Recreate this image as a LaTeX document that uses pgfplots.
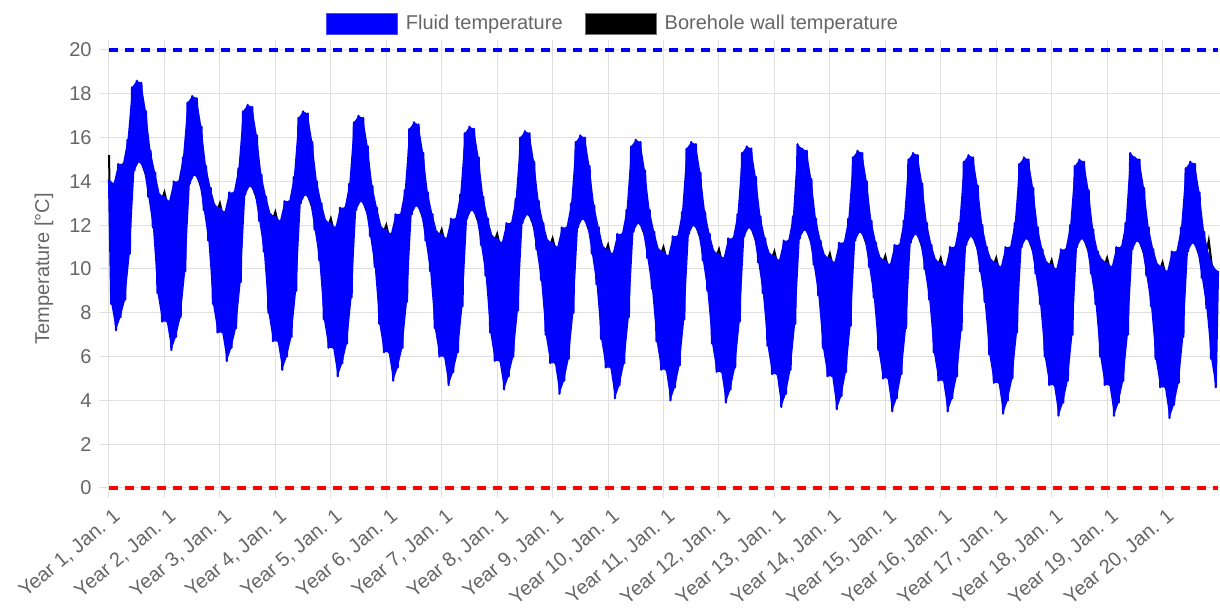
\documentclass[border=0pt]{standalone}
\usepackage{pgfplots}
\usepackage{pgfplotstable}
\pgfplotsset{compat=1.18}
\usepgfplotslibrary{fillbetween}
\usepackage{fontspec}
\setmainfont{Liberation Sans}
\definecolor{txtgray}{RGB}{102,102,102}
\definecolor{gridgray}{RGB}{224,224,224}

% Fluid temperature: half-monthly values, alternating upper / lower envelope
\pgfplotstableread[header=false, row sep=\\]{
14.1\\8.4\\13.9\\7.2\\14.8\\7.8\\14.8\\8.6\\15.9\\10.7\\18.3\\14.5\\18.6\\14.9\\18.5\\14.6\\17.2\\13.3\\15.4\\11.9\\14.4\\8.9\\13.4\\7.6\\
13.3\\7.6\\13.1\\6.3\\14.0\\6.9\\14.0\\7.8\\15.1\\9.9\\17.6\\13.9\\17.9\\14.3\\17.8\\14.0\\16.5\\12.7\\14.7\\11.3\\13.7\\8.4\\12.9\\7.1\\
12.8\\7.1\\12.6\\5.8\\13.5\\6.4\\13.5\\7.3\\14.6\\9.4\\17.2\\13.4\\17.5\\13.8\\17.4\\13.5\\16.1\\12.2\\14.3\\10.8\\13.3\\8.0\\12.5\\6.7\\
12.4\\6.7\\12.2\\5.4\\13.1\\6.0\\13.1\\6.9\\14.2\\9.0\\16.9\\13.0\\17.2\\13.4\\17.1\\13.1\\15.8\\11.8\\14.0\\10.4\\13.0\\7.7\\12.2\\6.4\\
12.1\\6.4\\11.9\\5.1\\12.8\\5.7\\12.8\\6.6\\13.9\\8.7\\16.7\\12.7\\17.0\\13.1\\16.9\\12.8\\15.6\\11.5\\13.8\\10.1\\12.8\\7.5\\11.9\\6.2\\
11.8\\6.2\\11.6\\4.9\\12.5\\5.5\\12.5\\6.4\\13.6\\8.5\\16.4\\12.5\\16.7\\12.9\\16.6\\12.6\\15.3\\11.3\\13.5\\9.9\\12.5\\7.3\\11.7\\6.0\\
11.6\\6.0\\11.4\\4.7\\12.3\\5.3\\12.3\\6.2\\13.4\\8.3\\16.2\\12.3\\16.5\\12.7\\16.4\\12.4\\15.1\\11.1\\13.3\\9.7\\12.3\\7.1\\11.5\\5.8\\
11.4\\5.8\\11.2\\4.5\\12.1\\5.1\\12.1\\6.0\\13.2\\8.1\\16.0\\12.1\\16.3\\12.5\\16.2\\12.2\\14.9\\10.9\\13.1\\9.5\\12.1\\7.0\\11.3\\5.7\\
11.2\\5.7\\11.0\\4.3\\11.9\\4.9\\11.9\\5.9\\13.0\\8.0\\15.8\\11.9\\16.1\\12.3\\16.0\\12.0\\14.7\\10.7\\12.9\\9.3\\11.9\\6.8\\11.0\\5.5\\
10.9\\5.5\\10.7\\4.1\\11.6\\4.7\\11.6\\5.7\\12.7\\7.8\\15.6\\11.7\\15.9\\12.1\\15.8\\11.8\\14.5\\10.5\\12.7\\9.1\\11.7\\6.7\\10.9\\5.4\\
10.8\\5.4\\10.6\\4.0\\11.5\\4.6\\11.5\\5.6\\12.6\\7.7\\15.5\\11.6\\15.8\\12.0\\15.7\\11.7\\14.4\\10.4\\12.6\\9.0\\11.6\\6.6\\10.8\\5.3\\
10.7\\5.3\\10.5\\3.9\\11.4\\4.5\\11.4\\5.5\\12.5\\7.6\\15.3\\11.5\\15.6\\11.9\\15.5\\11.6\\14.2\\10.3\\12.4\\8.9\\11.4\\6.5\\10.7\\5.2\\
10.6\\5.2\\10.4\\3.7\\11.3\\4.3\\11.3\\5.4\\12.4\\7.5\\15.7\\11.4\\15.5\\11.8\\15.4\\11.5\\14.1\\10.2\\12.3\\8.8\\11.3\\6.4\\10.6\\5.1\\
10.5\\5.1\\10.3\\3.6\\11.2\\4.2\\11.2\\5.3\\12.3\\7.4\\15.1\\11.3\\15.4\\11.7\\15.3\\11.4\\14.0\\10.1\\12.2\\8.7\\11.2\\6.3\\10.5\\5.0\\
10.4\\5.0\\10.2\\3.5\\11.1\\4.1\\11.1\\5.2\\12.2\\7.3\\15.0\\11.2\\15.3\\11.6\\15.2\\11.3\\13.9\\10.0\\12.1\\8.6\\11.1\\6.2\\10.4\\4.9\\
10.3\\4.9\\10.1\\3.5\\11.0\\4.1\\11.0\\5.1\\12.1\\7.2\\14.9\\11.1\\15.2\\11.5\\15.1\\11.2\\13.8\\9.9\\12.0\\8.5\\11.0\\6.1\\10.4\\4.8\\
10.3\\4.8\\10.1\\3.4\\11.0\\4.0\\11.0\\5.0\\12.1\\7.1\\14.8\\11.0\\15.1\\11.4\\15.0\\11.1\\13.7\\9.8\\11.9\\8.4\\10.9\\6.0\\10.3\\4.7\\
10.2\\4.7\\10.0\\3.3\\10.9\\3.9\\10.9\\4.9\\12.0\\7.0\\14.7\\11.0\\15.0\\11.4\\14.9\\11.1\\13.6\\9.8\\11.8\\8.4\\10.8\\6.0\\10.4\\4.7\\
10.3\\4.7\\10.1\\3.3\\11.0\\3.9\\11.0\\4.9\\12.1\\7.0\\15.3\\10.9\\15.1\\11.3\\15.0\\11.0\\13.7\\9.7\\11.9\\8.3\\10.9\\5.9\\10.2\\4.6\\
10.1\\4.6\\9.9\\3.2\\10.8\\3.8\\10.8\\4.8\\11.9\\6.9\\14.6\\10.8\\14.9\\11.2\\14.8\\10.9\\13.5\\9.6\\11.7\\8.2\\10.7\\5.9\\10.1\\4.6\\
9.9\\
}\fluid

% Borehole wall temperature: monthly values
\pgfplotstableread[header=false, row sep=\\]{
13.6\\13.4\\13.5\\13.9\\14.6\\14.4\\14.9\\14.9\\14.3\\13.9\\13.2\\12.9\\
13.5\\12.6\\12.7\\13.1\\13.8\\13.8\\14.3\\14.3\\13.7\\13.3\\12.7\\12.4\\
13.0\\12.1\\12.2\\12.6\\13.3\\13.3\\13.8\\13.8\\13.2\\12.8\\12.3\\12.0\\
12.6\\11.7\\11.8\\12.2\\12.9\\12.9\\13.4\\13.4\\12.8\\12.4\\12.0\\11.7\\
12.3\\11.4\\11.5\\11.9\\12.6\\12.6\\13.1\\13.1\\12.5\\12.1\\11.7\\11.4\\
12.0\\11.1\\11.2\\11.6\\12.3\\12.4\\12.9\\12.9\\12.3\\11.9\\11.5\\11.2\\
11.8\\10.9\\11.0\\11.4\\12.1\\12.2\\12.7\\12.7\\12.1\\11.7\\11.3\\11.0\\
11.6\\10.7\\10.8\\11.2\\11.9\\12.0\\12.5\\12.5\\11.9\\11.5\\11.1\\10.8\\
11.4\\10.5\\10.6\\11.0\\11.7\\11.8\\12.3\\12.3\\11.7\\11.3\\10.8\\10.5\\
11.1\\10.2\\10.3\\10.7\\11.4\\11.6\\12.1\\12.1\\11.5\\11.1\\10.7\\10.4\\
11.0\\10.1\\10.2\\10.6\\11.3\\11.5\\12.0\\12.0\\11.4\\11.0\\10.6\\10.3\\
10.9\\10.0\\10.1\\10.5\\11.2\\11.4\\11.9\\11.9\\11.3\\10.9\\10.5\\10.2\\
10.8\\9.9\\10.0\\10.4\\11.1\\11.3\\11.8\\11.8\\11.2\\10.8\\10.4\\10.1\\
10.7\\9.8\\9.9\\10.3\\11.0\\11.2\\11.7\\11.7\\11.1\\10.7\\10.3\\10.0\\
10.6\\9.7\\9.8\\10.2\\10.9\\11.1\\11.6\\11.6\\11.0\\10.6\\10.2\\9.9\\
10.5\\9.6\\9.7\\10.1\\10.8\\11.0\\11.5\\11.5\\10.9\\10.5\\10.2\\9.9\\
10.5\\9.6\\9.7\\10.1\\10.8\\10.9\\11.4\\11.4\\10.8\\10.4\\10.1\\9.8\\
10.4\\9.5\\9.6\\10.0\\10.7\\10.9\\11.4\\11.4\\10.8\\10.4\\10.2\\9.9\\
10.5\\9.6\\9.7\\10.1\\10.8\\10.8\\11.3\\11.3\\10.7\\10.3\\10.0\\9.7\\
10.3\\9.4\\9.5\\9.9\\10.6\\10.7\\11.2\\11.2\\10.6\\10.2\\11.3\\9.6\\
9.5\\
}\wall

\begin{document}
\begin{tikzpicture}
\begin{axis}[
  at={(0,0)}, anchor=south west,
  scale only axis, width=554.5pt, height=219pt,
  xmin=0, xmax=20, ymin=0, ymax=20,
  clip=false,
  axis line style={draw=none},
  xtick={0,...,19},
  xticklabels={{Year 1, Jan. 1},{Year 2, Jan. 1},{Year 3, Jan. 1},{Year 4, Jan. 1},{Year 5, Jan. 1},{Year 6, Jan. 1},{Year 7, Jan. 1},{Year 8, Jan. 1},{Year 9, Jan. 1},{Year 10, Jan. 1},{Year 11, Jan. 1},{Year 12, Jan. 1},{Year 13, Jan. 1},{Year 14, Jan. 1},{Year 15, Jan. 1},{Year 16, Jan. 1},{Year 17, Jan. 1},{Year 18, Jan. 1},{Year 19, Jan. 1},{Year 20, Jan. 1}},
  ytick={0,2,...,20},
  grid=major,
  grid style={gridgray, line width=0.5pt},
  tick align=outside,
  major tick length=5pt,
  tick style={gridgray, line width=0.5pt},
  ticklabel style={font=\fontsize{10}{12}\selectfont, text=txtgray},
  /pgf/number format/assume math mode=true,
  xticklabel style={rotate=40, anchor=north east, inner sep=1.5pt, yshift=-3pt},
  yticklabel style={inner sep=3.5pt},
  ylabel={Temperature [°C]},
  every axis y label/.style={at={(axis description cs:-0.0586,0.5)}, rotate=90, anchor=center},
  ylabel style={font=\fontsize{10}{12}\selectfont, text=txtgray},
  legend style={at={(0.4536,1.0594)}, anchor=center, draw=none, fill=none,
    font=\fontsize{10}{12}\selectfont, text=txtgray,
    legend columns=-1,
    nodes={inner sep=0pt},
    /tikz/every odd column/.append style={column sep=4pt},
    /tikz/every even column/.append style={column sep=11pt}},
  legend image code/.code={\draw[#1] (0pt,-5.25pt) rectangle (35.5pt,5.25pt);},
  filter discard warning=false,
]
\addlegendimage{fill=blue, draw=blue!70!white, line width=0.5pt}
\addlegendentry{Fluid temperature}
\addlegendimage{fill=black, draw=black!55, line width=0.5pt}
\addlegendentry{Borehole wall temperature}

% Borehole wall temperature
\addplot[black, line width=1pt, no marks, forget plot] table[x expr=\coordindex/12, y index=0] {\wall};
\addplot[black, line width=1pt, no marks, forget plot] coordinates {(0,15.2) (0.012,13.6)};

% Fluid temperature: envelopes, filled band, and zigzag on top
\addplot[name path=fu, draw=none, no marks, forget plot,
  y filter/.code={\ifodd\coordindex\relax\def\pgfmathresult{}\fi}]
  table[x expr=\coordindex/24, y index=0] {\fluid};
\addplot[name path=fl, draw=none, no marks, forget plot,
  y filter/.code={\ifodd\coordindex\relax\else\def\pgfmathresult{}\fi}]
  table[x expr=\coordindex/24, y index=0] {\fluid};
\addplot[fill=blue, draw=none, forget plot] fill between[of=fu and fl, on layer=main];
\addplot[blue, line width=1.1pt, line join=round, no marks, forget plot]
  table[x expr=\coordindex/24, y index=0] {\fluid};

% Limits
\addplot[blue, line width=2pt, dash pattern=on 4.5pt off 3.5pt, no marks, forget plot] coordinates {(0,20) (20,20)};
\addplot[red, line width=2pt, dash pattern=on 4.5pt off 3.5pt, no marks, forget plot] coordinates {(0,0) (20,0)};
\end{axis}
\pgfresetboundingbox
\useasboundingbox (-54.5pt,-61pt) rectangle (555.5pt,244pt);
\end{tikzpicture}
\end{document}
